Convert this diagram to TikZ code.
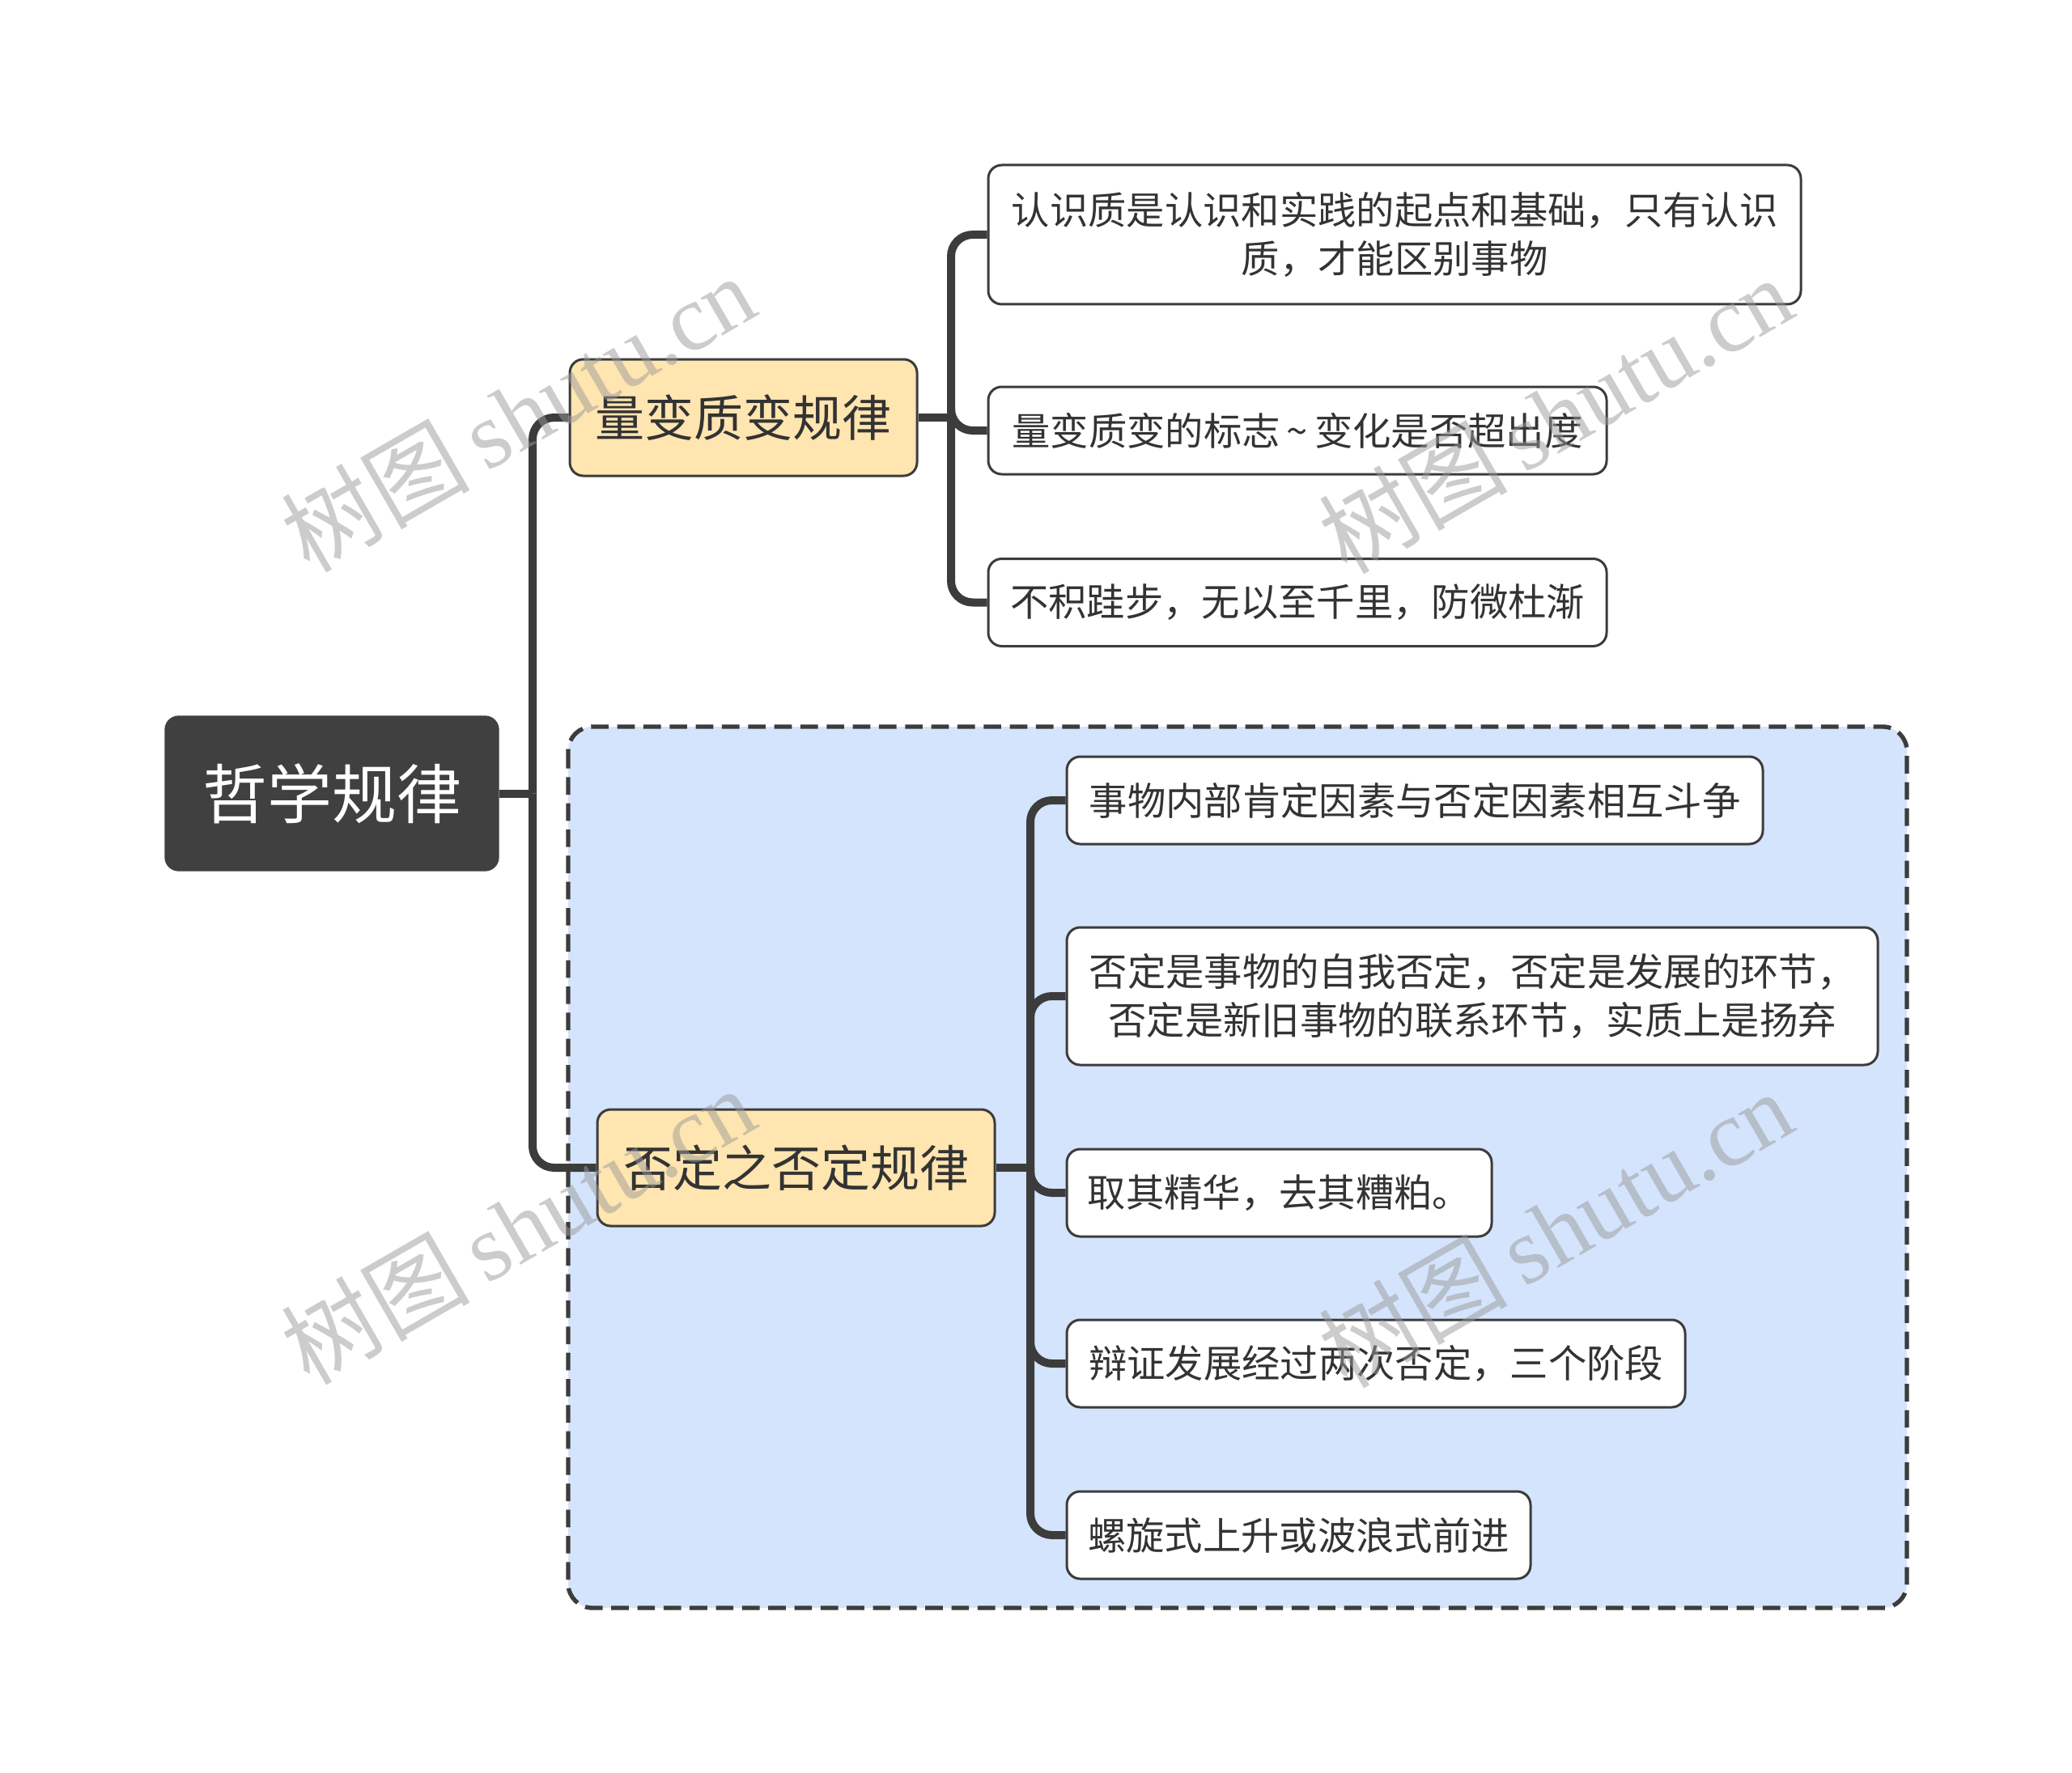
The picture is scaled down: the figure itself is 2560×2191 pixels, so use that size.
\documentclass[tikz,border=0pt]{standalone}
\usepackage{fontspec}
\setmainfont{Noto Sans CJK SC}
\newfontfamily\wmlatin{Liberation Serif}
\newfontfamily\wmcjk{Noto Sans CJK SC}
\definecolor{lc}{HTML}{3C3C3C}
\definecolor{rootfill}{HTML}{404040}
\definecolor{qfill}{HTML}{FFE5B0}
\definecolor{boxfill}{HTML}{D4E4FC}
\definecolor{txt}{HTML}{333333}
\definecolor{wm}{HTML}{9A9A9A}
\tikzset{
  conn/.style={draw=lc, line width=3pt, rounded corners=8pt},
  rootbox/.style={fill=rootfill, draw=rootfill, rounded corners=5pt, inner sep=0pt,
    text=white, font=\fontsize{24}{28}\selectfont},
  qbox/.style={fill=qfill, draw=lc, line width=0.9pt, rounded corners=5pt, inner sep=0pt,
    text=txt, font=\fontsize{18.3}{22}\selectfont, minimum height=43.2pt},
  leafbox/.style={fill=white, draw=lc, line width=0.9pt, rounded corners=5pt, inner sep=0pt,
    text=txt, font=\fontsize{14.2}{18}\selectfont, align=center},
  wmtext/.style={text=wm, opacity=0.5, rotate=30, inner sep=0pt}
}
\begin{document}
\begin{tikzpicture}[x=0.3pt, y=-0.3pt]
\useasboundingbox[fill=white] (0,0) rectangle (2560,2191);
% dashed group box
\draw[fill=boxfill, draw=lc, line width=1.6pt, dash pattern=on 6.5pt off 3.2pt, rounded corners=9pt]
  (702,898) rectangle (2356,1987);
% nodes
\node[rootbox, minimum width=123.6pt, minimum height=57.3pt] (root) at (410,980.5) {哲学规律};
\node[qbox, minimum width=128.7pt] (q1) at (918.5,516) {量变质变规律};
\node[qbox, minimum width=147.3pt] (q2) at (983.5,1443) {否定之否定规律};
\node[leafbox, minimum width=301.2pt, minimum height=51.6pt] (l1) at (1723,290)
  {认识质是认识和实践的起点和基础，只有认识\\质，才能区别事物};
\node[leafbox, minimum width=229.2pt, minimum height=32.4pt] (l2) at (1603,532)
  {量变质变的标志\,\textasciitilde\,变化是否超出度};
\node[leafbox, minimum width=229.2pt, minimum height=32.4pt] (l3) at (1603,744.5)
  {不积跬步，无以至千里，防微杜渐};
\node[leafbox, minimum width=258pt, minimum height=32.4pt] (l4) at (1748,989)
  {事物内部肯定因素与否定因素相互斗争};
\node[leafbox, minimum width=300.6pt, minimum height=51pt] (l5) at (1819,1231)
  {否定是事物的自我否定，否定是发展的环节，\\否定是新旧事物的联系环节，实质上是扬弃};
\node[leafbox, minimum width=157.5pt, minimum height=32.4pt] (l6) at (1580.5,1474)
  {取其精华，去其糟粕。};
\node[leafbox, minimum width=229.2pt, minimum height=32.4pt] (l7) at (1700,1685)
  {辩证发展经过两次否定，三个阶段};
\node[leafbox, minimum width=171.9pt, minimum height=32.4pt] (l8) at (1604.5,1897)
  {螺旋式上升或波浪式前进};
% junction coordinates
\coordinate (rt) at (658,980.5);
\coordinate (q1t) at (1175,516);
\coordinate (q2t) at (1273,1443);
% connectors
\draw[conn] (root.east) -- (rt);
\draw[conn] (rt) |- (q1.west);
\draw[conn] (rt) |- (q2.west);
\draw[conn] (q1.east) -- (q1t);
\draw[conn] (q1t) |- (l1.west);
\draw[conn] (q1t) |- (l2.west);
\draw[conn] (q1t) |- (l3.west);
\draw[conn] (q2.east) -- (q2t);
\draw[conn] (q2t) |- (l4.west);
\draw[conn] (q2t) |- (l5.west);
\draw[conn] (q2t) |- (l6.west);
\draw[conn] (q2t) |- (l7.west);
\draw[conn] (q2t) |- (l8.west);
% watermarks
\foreach \n/\p in {w1/{(640,510)}, w2/{(1922,512)}, w3/{(640,1514)}, w4/{(1922,1518)}}{
  \node[wmtext] (\n) at \p {\fontsize{35}{38}\selectfont\wmcjk 树图\,\wmlatin shutu.cn};
}
\end{tikzpicture}
\end{document}
